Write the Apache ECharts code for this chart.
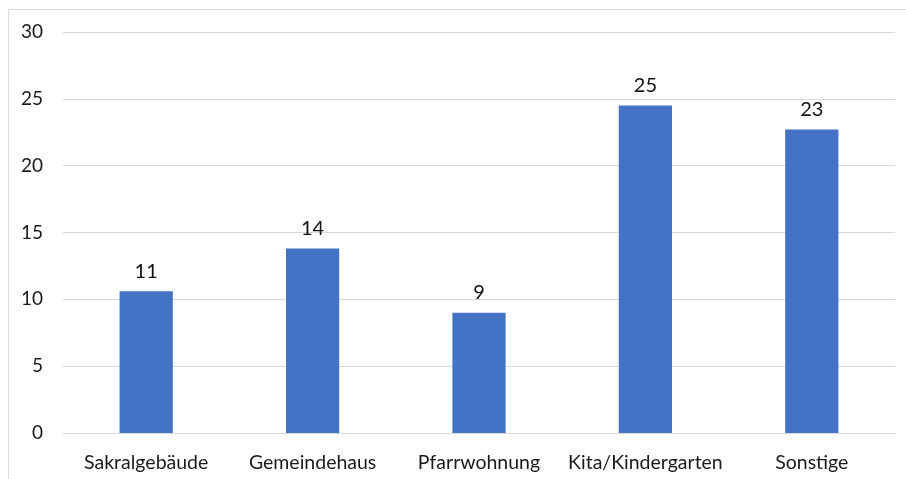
<!DOCTYPE html>
<html><head><meta charset="utf-8">
<script src="https://cdn.jsdelivr.net/npm/echarts@6/dist/echarts.min.js"></script>
<style>html,body{margin:0;padding:0;background:#fff}#c{width:906px;height:479px}</style>
</head><body><div id="c"></div>
<script>
const categories = ['Sakralgebäude', 'Gemeindehaus', 'Pfarrwohnung', 'Kita/Kindergarten', 'Sonstige'];
const values = [10.6, 13.8, 9.0, 24.5, 22.7];
const yTicks = [0, 5, 10, 15, 20, 25, 30];

const chart = echarts.init(document.getElementById('c'));
chart.setOption({
  animation: false,
  textStyle: { fontFamily: 'Lato, "Open Sans", sans-serif' },
  graphic: [{
    type: 'rect', shape: { x: 8.5, y: 9.5, width: 920, height: 500 },
    style: { fill: 'none', stroke: '#d9d9d9', lineWidth: 1 }, silent: true, z: -1
  }],
  grid: { left: 63, right: 11, top: 32, bottom: 46 },
  xAxis: {
    type: 'category', data: categories,
    axisLine: { show: true, lineStyle: { color: '#d9d9d9', width: 1 } },
    axisTick: { show: false },
    axisLabel: { color: '#1a1a1a', fontSize: 19.5, margin: 20, interval: 0 }
  },
  yAxis: {
    type: 'value', min: yTicks[0], max: yTicks[yTicks.length - 1], interval: 5,
    axisLine: { show: false }, axisTick: { show: false },
    splitLine: { lineStyle: { color: '#d9d9d9', width: 1 } },
    axisLabel: { color: '#1a1a1a', fontSize: 19, margin: 20 }
  },
  series: [{
    type: 'bar', data: values, barWidth: '32%',
    itemStyle: { color: '#4472C4' },
    label: { show: true, position: 'top', distance: 10, color: '#111', fontSize: 20,
      formatter: p => Math.round(p.value) }
  }]
});
</script></body></html>
